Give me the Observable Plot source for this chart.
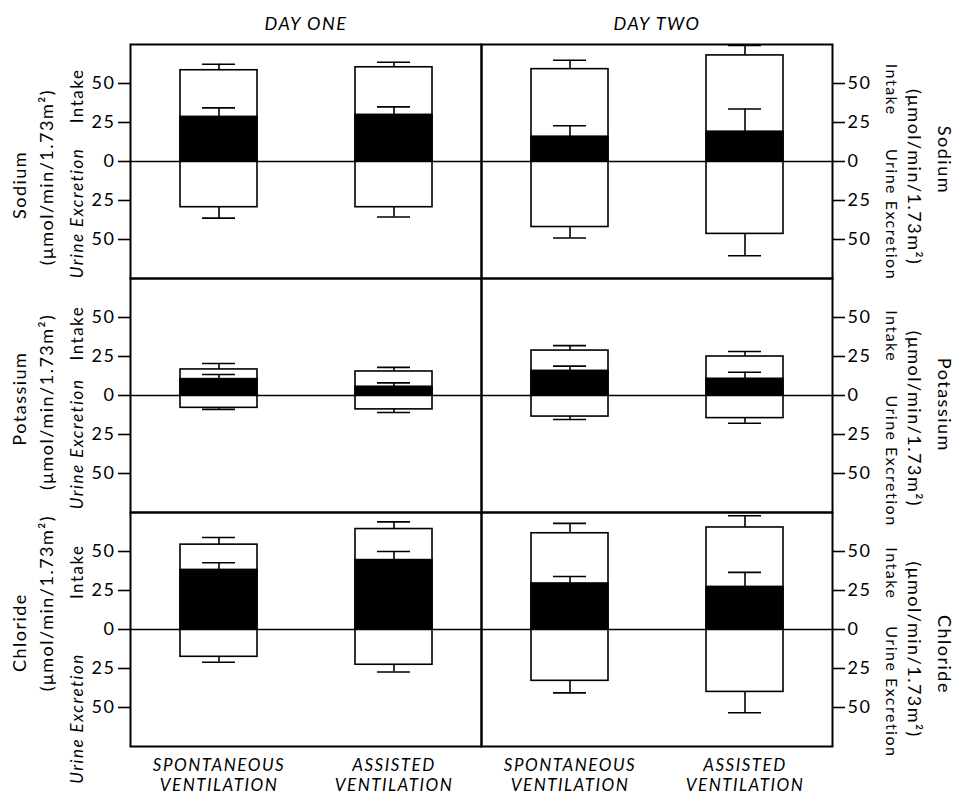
<!DOCTYPE html>
<html><head><meta charset="utf-8">
<script src="https://cdn.jsdelivr.net/npm/d3@7"></script>
<script src="https://cdn.jsdelivr.net/npm/@observablehq/plot@0.6"></script>
<style>
body{margin:0;background:#fff;}
#chart svg text{letter-spacing:1.5px;}
</style>
</head><body><div id="chart"></div>
<script>
// ---- data ----
const days = ["DAY ONE", "DAY TWO"];
const ions = ["Sodium", "Potassium", "Chloride"];
const ventilation = ["SPONTANEOUS\nVENTILATION", "ASSISTED\nVENTILATION"];
const unitLabel = "(\u03bcmol/min/1.73m\u00b2)";
// order: ion × day × ventilation
const intakeMean    = [58.5, 60.4, 59.2, 68.0, 16.7, 15.4, 28.8, 25.0, 54.4, 64.4, 61.7, 65.4];
const intakeSem     = [3.8, 3.2, 5.7, 6.4, 3.8, 2.6, 3.2, 3.2, 4.6, 4.6, 6.3, 7.5];
const retainedMean  = [28.6, 29.9, 15.9, 19.1, 10.5, 5.6, 15.8, 10.7, 38.2, 44.5, 29.5, 27.3];
const retainedSem   = [5.8, 5.1, 7.0, 14.6, 3.0, 2.5, 3.0, 4.2, 4.6, 5.5, 4.5, 9.3];
const excretionMean = [29.3, 29.3, 42.0, 46.4, 7.9, 8.9, 13.5, 14.5, 17.5, 22.6, 32.9, 40.0];
const excretionSem  = [7.0, 6.3, 7.0, 14.0, 1.0, 2.0, 1.9, 3.3, 3.5, 4.6, 7.7, 13.4];
const yTicks = [-50, -25, 0, 25, 50];

// ---- table built from the arrays ----
const rows = [];
let k = 0;
for (const ion of ions) for (const day of days) for (const vent of ventilation) {
  rows.push({
    ion, day, vent,
    intake: intakeMean[k], intakeHi: intakeMean[k] + intakeSem[k],
    ret: retainedMean[k], retHi: retainedMean[k] + retainedSem[k],
    exc: -excretionMean[k], excLo: -(excretionMean[k] + excretionSem[k])
  });
  k++;
}

// label placement (layout only)
const leftLabelY = {
  Sodium:    {name: -15, unit: -10, intake: 42, urine: -33},
  Potassium: {name: -2,  unit: -4,  intake: 40, urine: -31},
  Chloride:  {name: -2,  unit: 17,  intake: 37, urine: -57}
};
const rightLabelY = {
  Sodium:    {name: 1,   unit: -10, intake: 46, urine: -34},
  Potassium: {name: -6,  unit: -15, intake: 38, urine: -42},
  Chloride:  {name: -16, unit: -13, intake: 36, urine: -40}
};

const FONT = "Lato, 'DejaVu Sans', sans-serif";
const F = {fx: "day", fy: "ion", x: "vent"};
const cap = {insetLeft: 22, insetRight: 22, stroke: "black", strokeWidth: 1.6};
const SW = 1.6;

const leftSide = (key, text, dx, opts = {}) =>
  Plot.text(ions, {fy: d => d, fx: () => "DAY ONE", frameAnchor: "left", y: d => leftLabelY[d][key],
    text, dx, rotate: -90, textAnchor: "middle", lineAnchor: "middle", fontSize: 18, fill: "black", ...opts});
const rightSide = (key, text, dx, opts = {}) =>
  Plot.text(ions, {fy: d => d, fx: () => "DAY TWO", frameAnchor: "right", y: d => rightLabelY[d][key],
    text, dx, rotate: 90, textAnchor: "middle", lineAnchor: "middle", fontSize: 18, fill: "black", ...opts});

const chart = Plot.plot({
  width: 956, height: 797,
  marginLeft: 130, marginRight: 124, marginTop: 43, marginBottom: 50,
  style: {fontFamily: FONT, background: "white", color: "black"},
  fx: {domain: days, padding: 0, axis: null},
  fy: {domain: ions, padding: 0, axis: null},
  x: {domain: ventilation, paddingInner: 0.56, paddingOuter: 0.28, axis: null},
  y: {domain: [-75, 75]},
  marks: [
    Plot.barY(rows, {...F, y1: 0, y2: "intake", fill: "white", stroke: "black", strokeWidth: SW}),
    Plot.barY(rows, {...F, y1: 0, y2: "ret", fill: "black", stroke: "black", strokeWidth: SW}),
    Plot.barY(rows, {...F, y1: 0, y2: "exc", fill: "white", stroke: "black", strokeWidth: SW}),
    Plot.ruleY([0], {stroke: "black", strokeWidth: SW}),
    Plot.ruleX(rows, {...F, y1: "intake", y2: "intakeHi", stroke: "black", strokeWidth: SW}),
    Plot.tickY(rows, {...F, y: "intakeHi", ...cap}),
    Plot.ruleX(rows, {...F, y1: "ret", y2: "retHi", stroke: "black", strokeWidth: SW}),
    Plot.tickY(rows, {...F, y: "retHi", ...cap}),
    Plot.ruleX(rows, {...F, y1: "exc", y2: "excLo", stroke: "black", strokeWidth: SW}),
    Plot.tickY(rows, {...F, y: "excLo", ...cap}),
    Plot.frame({stroke: "black", strokeWidth: 2}),
    Plot.axisY({anchor: "left", ticks: yTicks, tickFormat: d => Math.abs(d), tickSize: 12,
      tickPadding: 3, label: null, fontSize: 18, strokeWidth: SW, fill: "black"}),
    Plot.axisY({anchor: "right", ticks: yTicks, tickFormat: d => Math.abs(d), tickSize: 12,
      tickPadding: 3, label: null, fontSize: 18, strokeWidth: SW, fill: "black"}),
    // day titles
    Plot.text(days, {fx: d => d, fy: () => "Sodium", frameAnchor: "top", lineAnchor: "middle", dy: -20,
      text: d => d, fontSize: 18, fontStyle: "italic", fill: "black"}),
    // bottom category labels
    Plot.text(days.flatMap(day => ventilation.map(vent => ({day, vent}))),
      {fx: "day", fy: () => "Chloride", x: "vent", frameAnchor: "bottom", lineAnchor: "top", dy: 10,
       text: "vent", fontSize: 17, lineHeight: 1.2, fontStyle: "italic", fill: "black"}),
    // left side labels
    leftSide("name", d => d, -110),
    leftSide("unit", () => unitLabel, -83),
    leftSide("intake", () => "Intake", -53, {fontSize: 17}),
    leftSide("urine", () => "Urine Excretion", -53, {fontSize: 17, fontStyle: "italic"}),
    // right side labels
    rightSide("intake", () => "Intake", 59, {fontSize: 16}),
    rightSide("urine", () => "Urine Excretion", 59, {fontSize: 16}),
    rightSide("unit", () => unitLabel, 81),
    rightSide("name", d => d, 111)
  ]
});
document.getElementById("chart").append(chart);
</script>
</body></html>
